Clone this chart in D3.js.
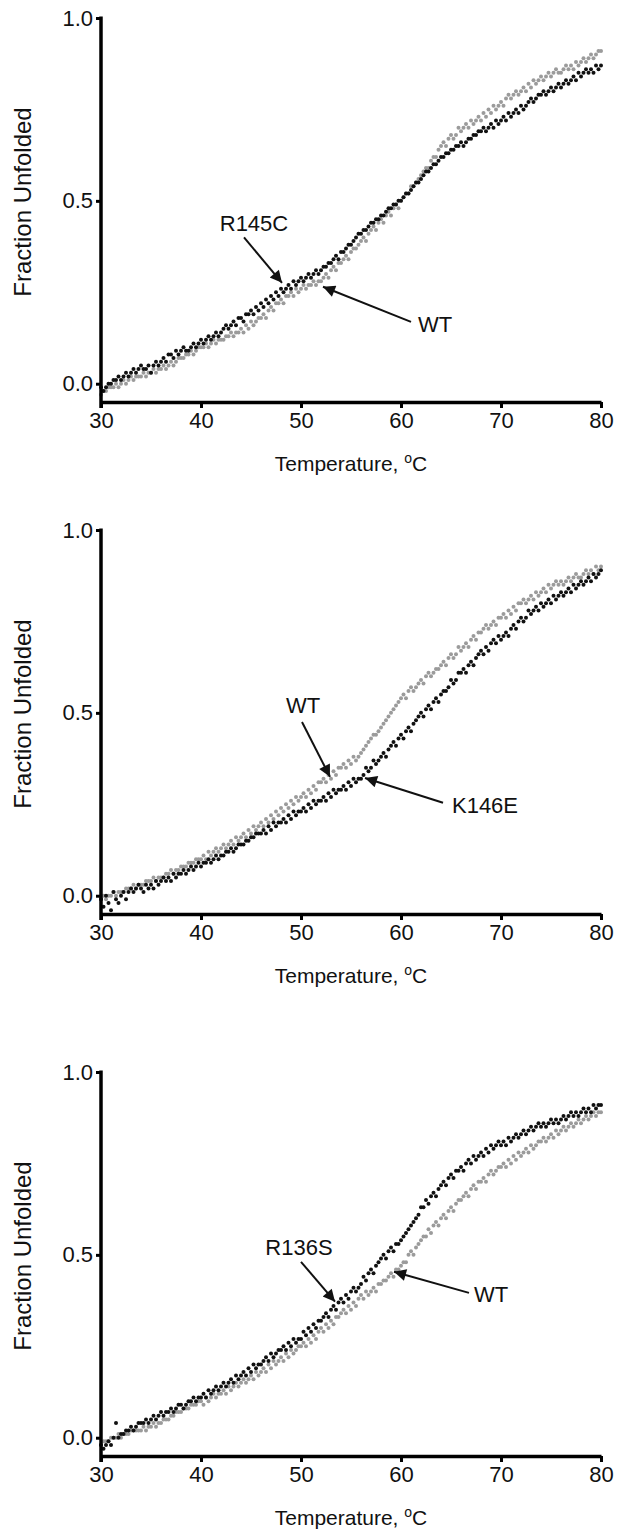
<!DOCTYPE html>
<html>
<head>
<meta charset="utf-8">
<title>Fraction unfolded vs temperature</title>
<script src="https://d3js.org/d3.v7.min.js"></script>
<style>
  body { margin: 0; background: #fff; }
  text { font-family: "Liberation Sans", Arial, Helvetica, sans-serif; fill: #111; }
</style>
</head>
<body>
<div id="chart"></div>
<script>

// temperatures (oC) of the readings, same for every curve
const temps = [
  30,30.25,30.5,30.75,31,31.25,31.5,31.75,
  32,32.25,32.5,32.75,33,33.25,33.5,33.75,
  34,34.25,34.5,34.75,35,35.25,35.5,35.75,
  36,36.25,36.5,36.75,37,37.25,37.5,37.75,
  38,38.25,38.5,38.75,39,39.25,39.5,39.75,
  40,40.25,40.5,40.75,41,41.25,41.5,41.75,
  42,42.25,42.5,42.75,43,43.25,43.5,43.75,
  44,44.25,44.5,44.75,45,45.25,45.5,45.75,
  46,46.25,46.5,46.75,47,47.25,47.5,47.75,
  48,48.25,48.5,48.75,49,49.25,49.5,49.75,
  50,50.25,50.5,50.75,51,51.25,51.5,51.75,
  52,52.25,52.5,52.75,53,53.25,53.5,53.75,
  54,54.25,54.5,54.75,55,55.25,55.5,55.75,
  56,56.25,56.5,56.75,57,57.25,57.5,57.75,
  58,58.25,58.5,58.75,59,59.25,59.5,59.75,
  60,60.25,60.5,60.75,61,61.25,61.5,61.75,
  62,62.25,62.5,62.75,63,63.25,63.5,63.75,
  64,64.25,64.5,64.75,65,65.25,65.5,65.75,
  66,66.25,66.5,66.75,67,67.25,67.5,67.75,
  68,68.25,68.5,68.75,69,69.25,69.5,69.75,
  70,70.25,70.5,70.75,71,71.25,71.5,71.75,
  72,72.25,72.5,72.75,73,73.25,73.5,73.75,
  74,74.25,74.5,74.75,75,75.25,75.5,75.75,
  76,76.25,76.5,76.75,77,77.25,77.5,77.75,
  78,78.25,78.5,78.75,79,79.25,79.5,79.75,
  80
];

// panel 1
const wtA = [
  -0.03,-0.02,-0.02,-0.01,-0.01,-0.01,0.00,-0.01,
  0.00,0.01,0.00,0.01,0.02,0.01,0.02,0.02,
  0.02,0.03,0.02,0.03,0.03,0.04,0.03,0.04,
  0.04,0.05,0.04,0.05,0.06,0.05,0.06,0.07,
  0.07,0.07,0.08,0.08,0.09,0.08,0.09,0.10,
  0.10,0.10,0.11,0.10,0.11,0.12,0.11,0.12,
  0.12,0.12,0.13,0.13,0.14,0.13,0.14,0.14,
  0.15,0.14,0.16,0.15,0.17,0.16,0.17,0.18,
  0.18,0.19,0.18,0.20,0.21,0.20,0.22,0.22,
  0.23,0.22,0.24,0.24,0.25,0.24,0.26,0.25,
  0.26,0.27,0.26,0.27,0.27,0.28,0.27,0.28,
  0.28,0.29,0.30,0.29,0.31,0.32,0.31,0.33,
  0.33,0.34,0.35,0.34,0.36,0.37,0.37,0.38,
  0.39,0.40,0.39,0.41,0.42,0.43,0.42,0.44,
  0.45,0.44,0.46,0.47,0.46,0.48,0.49,0.48,
  0.50,0.51,0.52,0.52,0.54,0.54,0.55,0.56,
  0.57,0.58,0.59,0.59,0.61,0.62,0.62,0.64,
  0.65,0.66,0.65,0.67,0.68,0.67,0.68,0.70,
  0.69,0.70,0.71,0.70,0.72,0.71,0.72,0.73,
  0.72,0.74,0.73,0.75,0.74,0.76,0.75,0.76,
  0.77,0.76,0.78,0.79,0.78,0.79,0.80,0.79,
  0.80,0.81,0.80,0.82,0.81,0.83,0.82,0.83,
  0.84,0.83,0.84,0.85,0.84,0.85,0.86,0.85,
  0.85,0.86,0.87,0.86,0.87,0.86,0.88,0.87,
  0.88,0.89,0.88,0.89,0.90,0.89,0.90,0.91,
  0.91
];
const r145c = [
  -0.01,-0.02,-0.01,0.00,0.00,0.01,0.01,0.02,
  0.01,0.02,0.03,0.02,0.03,0.04,0.03,0.04,
  0.05,0.04,0.04,0.05,0.03,0.05,0.06,0.05,
  0.06,0.07,0.06,0.08,0.08,0.07,0.09,0.08,
  0.09,0.10,0.09,0.09,0.10,0.11,0.10,0.11,
  0.12,0.11,0.12,0.13,0.12,0.13,0.14,0.13,
  0.14,0.15,0.16,0.15,0.16,0.17,0.16,0.18,
  0.18,0.17,0.19,0.19,0.20,0.19,0.21,0.20,
  0.22,0.21,0.23,0.22,0.24,0.23,0.25,0.24,
  0.26,0.25,0.26,0.27,0.26,0.28,0.27,0.28,
  0.29,0.28,0.29,0.30,0.29,0.30,0.31,0.30,
  0.31,0.32,0.32,0.33,0.33,0.34,0.35,0.34,
  0.36,0.36,0.37,0.38,0.38,0.39,0.40,0.41,
  0.41,0.42,0.42,0.43,0.44,0.44,0.45,0.45,
  0.46,0.46,0.47,0.48,0.48,0.49,0.49,0.50,
  0.50,0.51,0.52,0.52,0.53,0.54,0.55,0.55,
  0.56,0.57,0.58,0.58,0.59,0.60,0.60,0.61,
  0.62,0.62,0.63,0.63,0.64,0.64,0.65,0.65,
  0.66,0.65,0.66,0.67,0.67,0.68,0.68,0.69,
  0.69,0.70,0.69,0.70,0.71,0.70,0.72,0.71,
  0.72,0.73,0.72,0.74,0.73,0.74,0.75,0.74,
  0.76,0.75,0.76,0.77,0.78,0.77,0.78,0.79,
  0.79,0.80,0.79,0.80,0.81,0.80,0.81,0.82,
  0.81,0.82,0.83,0.82,0.83,0.84,0.83,0.85,
  0.84,0.85,0.86,0.85,0.86,0.85,0.87,0.86,
  0.87
];

// panel 2
const wtB = [
  -0.01,0.00,-0.01,0.00,0.00,0.01,0.00,0.01,
  0.01,0.01,0.02,0.02,0.02,0.03,0.02,0.03,
  0.03,0.03,0.04,0.04,0.04,0.05,0.04,0.05,
  0.05,0.05,0.06,0.06,0.07,0.06,0.07,0.07,
  0.08,0.08,0.08,0.09,0.09,0.09,0.10,0.10,
  0.10,0.11,0.10,0.12,0.11,0.12,0.13,0.12,
  0.13,0.14,0.13,0.14,0.15,0.14,0.16,0.15,
  0.16,0.17,0.16,0.18,0.17,0.19,0.18,0.19,
  0.20,0.19,0.21,0.20,0.22,0.21,0.23,0.22,
  0.24,0.23,0.25,0.24,0.26,0.25,0.27,0.26,
  0.27,0.28,0.27,0.29,0.28,0.30,0.29,0.31,
  0.31,0.32,0.31,0.33,0.32,0.34,0.33,0.35,
  0.35,0.36,0.35,0.37,0.36,0.38,0.37,0.38,
  0.39,0.40,0.41,0.42,0.43,0.44,0.44,0.45,
  0.46,0.47,0.48,0.49,0.50,0.51,0.52,0.53,
  0.54,0.55,0.54,0.56,0.57,0.56,0.57,0.58,
  0.59,0.58,0.60,0.61,0.60,0.61,0.62,0.62,
  0.63,0.64,0.63,0.65,0.66,0.65,0.66,0.68,
  0.67,0.68,0.69,0.68,0.70,0.71,0.70,0.72,
  0.72,0.73,0.74,0.73,0.74,0.75,0.74,0.76,
  0.76,0.77,0.76,0.78,0.77,0.79,0.78,0.80,
  0.80,0.81,0.80,0.81,0.82,0.81,0.83,0.82,
  0.83,0.84,0.83,0.85,0.84,0.85,0.86,0.85,
  0.86,0.85,0.86,0.87,0.86,0.87,0.88,0.87,
  0.87,0.88,0.89,0.88,0.89,0.88,0.90,0.89,
  0.90
];
const k146e = [
  -0.01,-0.03,0.00,-0.02,-0.04,0.01,-0.01,-0.02,
  0.00,0.01,-0.01,0.01,0.02,0.01,0.02,0.03,
  0.02,0.01,0.03,0.02,0.03,0.02,0.04,0.03,
  0.04,0.05,0.04,0.05,0.04,0.06,0.05,0.06,
  0.06,0.07,0.06,0.07,0.08,0.07,0.08,0.09,
  0.08,0.09,0.09,0.10,0.09,0.10,0.11,0.10,
  0.11,0.11,0.12,0.12,0.13,0.12,0.13,0.14,
  0.14,0.14,0.15,0.15,0.16,0.16,0.17,0.17,
  0.17,0.18,0.17,0.19,0.18,0.20,0.19,0.20,
  0.20,0.21,0.20,0.22,0.21,0.23,0.22,0.23,
  0.23,0.24,0.23,0.25,0.24,0.26,0.25,0.26,
  0.26,0.27,0.26,0.28,0.27,0.29,0.28,0.29,
  0.29,0.30,0.29,0.31,0.30,0.32,0.31,0.32,
  0.32,0.33,0.35,0.34,0.35,0.37,0.36,0.37,
  0.38,0.39,0.38,0.40,0.41,0.42,0.41,0.43,
  0.44,0.43,0.45,0.46,0.45,0.47,0.48,0.49,
  0.50,0.49,0.51,0.52,0.51,0.53,0.54,0.53,
  0.55,0.56,0.56,0.57,0.59,0.58,0.59,0.61,
  0.61,0.62,0.61,0.63,0.64,0.63,0.65,0.66,
  0.67,0.66,0.68,0.67,0.69,0.70,0.69,0.71,
  0.70,0.71,0.72,0.71,0.73,0.74,0.73,0.75,
  0.76,0.75,0.76,0.78,0.77,0.78,0.79,0.78,
  0.80,0.79,0.80,0.81,0.80,0.82,0.81,0.82,
  0.83,0.82,0.83,0.84,0.83,0.85,0.84,0.85,
  0.86,0.85,0.86,0.87,0.86,0.88,0.87,0.88,
  0.89
];

// panel 3
const wtC = [
  -0.02,-0.01,-0.01,-0.01,0.00,0.00,0.00,0.01,
  0.00,0.01,0.01,0.01,0.02,0.02,0.02,0.02,
  0.02,0.03,0.02,0.03,0.03,0.04,0.03,0.04,
  0.04,0.05,0.05,0.05,0.06,0.06,0.07,0.07,
  0.07,0.08,0.08,0.08,0.09,0.09,0.09,0.10,
  0.10,0.09,0.11,0.10,0.11,0.12,0.11,0.12,
  0.12,0.13,0.12,0.14,0.13,0.14,0.15,0.14,
  0.15,0.16,0.15,0.16,0.17,0.16,0.18,0.17,
  0.18,0.19,0.18,0.20,0.19,0.21,0.20,0.21,
  0.22,0.21,0.23,0.22,0.24,0.23,0.24,0.25,
  0.25,0.26,0.25,0.27,0.26,0.28,0.27,0.29,
  0.30,0.29,0.31,0.30,0.32,0.31,0.33,0.33,
  0.34,0.35,0.34,0.36,0.35,0.37,0.36,0.38,
  0.39,0.38,0.40,0.39,0.40,0.41,0.40,0.42,
  0.42,0.43,0.43,0.44,0.45,0.44,0.46,0.46,
  0.47,0.48,0.48,0.50,0.51,0.50,0.52,0.53,
  0.54,0.55,0.55,0.57,0.56,0.58,0.59,0.58,
  0.60,0.61,0.60,0.62,0.63,0.62,0.64,0.65,
  0.65,0.66,0.67,0.66,0.68,0.69,0.68,0.70,
  0.70,0.71,0.70,0.72,0.73,0.72,0.73,0.74,
  0.74,0.75,0.74,0.76,0.75,0.77,0.76,0.78,
  0.77,0.78,0.79,0.78,0.80,0.79,0.80,0.81,
  0.81,0.82,0.81,0.82,0.83,0.82,0.84,0.83,
  0.84,0.85,0.84,0.85,0.86,0.85,0.86,0.87,
  0.86,0.87,0.88,0.87,0.88,0.89,0.88,0.89,
  0.89
];
const r136s = [
  -0.02,-0.03,-0.02,-0.01,-0.02,0.00,0.04,0.00,
  0.01,0.01,0.02,0.02,0.03,0.02,0.03,0.04,
  0.04,0.04,0.05,0.04,0.05,0.06,0.05,0.06,
  0.07,0.06,0.07,0.07,0.08,0.07,0.08,0.09,
  0.09,0.08,0.09,0.10,0.10,0.11,0.10,0.11,
  0.11,0.12,0.11,0.13,0.12,0.13,0.14,0.13,
  0.14,0.15,0.14,0.15,0.16,0.15,0.17,0.16,
  0.17,0.18,0.17,0.19,0.18,0.20,0.19,0.20,
  0.20,0.21,0.22,0.21,0.23,0.22,0.23,0.24,
  0.24,0.25,0.24,0.26,0.25,0.27,0.26,0.27,
  0.27,0.29,0.28,0.30,0.29,0.31,0.30,0.32,
  0.32,0.33,0.34,0.33,0.35,0.36,0.35,0.37,
  0.38,0.37,0.39,0.38,0.40,0.41,0.40,0.41,
  0.42,0.44,0.43,0.45,0.46,0.45,0.47,0.48,
  0.49,0.50,0.49,0.51,0.52,0.51,0.53,0.53,
  0.54,0.55,0.56,0.57,0.58,0.59,0.60,0.61,
  0.63,0.63,0.65,0.64,0.66,0.67,0.66,0.68,
  0.69,0.70,0.69,0.71,0.72,0.71,0.73,0.73,
  0.74,0.73,0.75,0.76,0.75,0.77,0.76,0.77,
  0.78,0.77,0.79,0.78,0.80,0.79,0.80,0.81,
  0.80,0.81,0.80,0.82,0.81,0.82,0.83,0.82,
  0.83,0.84,0.83,0.84,0.85,0.84,0.85,0.86,
  0.85,0.86,0.85,0.86,0.87,0.86,0.87,0.86,
  0.87,0.88,0.87,0.88,0.89,0.88,0.89,0.88,
  0.89,0.90,0.89,0.90,0.89,0.91,0.90,0.91,
  0.91
];

const xTicks = [30, 40, 50, 60, 70, 80];
const yTicks = [0.0, 0.5, 1.0];

// annotation labels: text position and arrow, in data units (T, fraction)
const notesA = [
  {label: "R145C", tx: 45.3, ty: 0.418, from: [44.3, 0.40], to: [48.1, 0.276]},
  {label: "WT", tx: 63.4, ty: 0.142, from: [61.0, 0.169], to: [52.2, 0.265]}
];
const notesB = [
  {label: "WT", tx: 50.2, ty: 0.50, from: [50.1, 0.475], to: [52.9, 0.325]},
  {label: "K146E", tx: 68.4, ty: 0.225, from: [64.2, 0.254], to: [56.4, 0.322]}
];
const notesC = [
  {label: "R136S", tx: 49.8, ty: 0.50, from: [50.0, 0.481], to: [53.4, 0.372]},
  {label: "WT", tx: 69.0, ty: 0.372, from: [66.8, 0.396], to: [59.3, 0.454]}
];

const panels = [
  {top: 0,    wt: wtA, mut: r145c, notes: notesA},
  {top: 512,  wt: wtB, mut: k146e, notes: notesB},
  {top: 1054, wt: wtC, mut: r136s, notes: notesC}
];

const W = 617, H = 1531;
const left = 101, right = 601;
const plotTop = 18, plotBottom = 402;

const svg = d3.select("#chart")
  .append("svg")
    .attr("width", W)
    .attr("height", H);

svg.append("defs").append("marker")
    .attr("id", "head")
    .attr("viewBox", "0 0 10 10")
    .attr("refX", 10)
    .attr("refY", 5)
    .attr("markerUnits", "userSpaceOnUse")
    .attr("markerWidth", 16)
    .attr("markerHeight", 12)
    .attr("orient", "auto")
  .append("path")
    .attr("d", "M0,0L10,5L0,10z")
    .attr("fill", "#111");

const xScale = d3.scaleLinear()
    .domain([30, 80])
    .range([left, right]);

panels.forEach(function(p) {
  const g = svg.append("g")
      .attr("transform", "translate(0," + p.top + ")");

  const yScale = d3.scaleLinear()
      .domain([-0.05, 1.0])
      .range([plotBottom, plotTop]);

  // dots: WT in grey, mutant in black
  [[p.wt, "#9b9b9b"], [p.mut, "#111"]].forEach(function(s) {
    g.append("g").selectAll("circle")
      .data(s[0])
      .enter()
      .append("circle")
        .attr("cx", function(d, i) { return xScale(temps[i]); })
        .attr("cy", function(d) { return yScale(d); })
        .attr("r", 2)
        .attr("fill", s[1]);
  });

  const xAxis = d3.axisBottom(xScale)
      .tickValues(xTicks)
      .tickSize(6)
      .tickSizeOuter(0)
      .tickPadding(4)
      .tickFormat(d3.format("d"));

  const yAxis = d3.axisLeft(yScale)
      .tickValues(yTicks)
      .tickSize(5)
      .tickSizeOuter(0)
      .tickPadding(3)
      .tickFormat(d3.format(".1f"));

  const gx = g.append("g")
      .attr("transform", "translate(0," + plotBottom + ")")
      .call(xAxis);
  const gy = g.append("g")
      .attr("transform", "translate(" + left + ",0)")
      .call(yAxis);

  [gx, gy].forEach(function(a) {
    a.select(".domain").attr("stroke", "#000").attr("stroke-width", 3.5);
    a.selectAll(".tick line").attr("stroke", "#000").attr("stroke-width", 3);
    a.selectAll(".tick text")
      .attr("font-family", "'Liberation Sans', Arial, sans-serif")
      .attr("font-size", 22)
      .attr("fill", "#111");
  });
  // y axis line runs down past the x axis, like the 30 tick
  gy.select(".domain").attr("d", "M0," + (plotBottom + 6) + "V" + (plotTop - 1.5));

  // axis titles
  g.append("text")
      .attr("transform", "translate(31," + 202 + ") rotate(-90)")
      .attr("text-anchor", "middle")
      .attr("font-size", 24)
      .text("Fraction Unfolded");

  const xt = g.append("text")
      .attr("x", (left + right) / 2)
      .attr("y", 471)
      .attr("text-anchor", "middle")
      .attr("font-size", 21);
  xt.append("tspan").text("Temperature, ");
  xt.append("tspan").attr("font-size", 14).attr("dy", -8).text("o");
  xt.append("tspan").attr("dy", 8).text("C");

  // labels with arrows
  p.notes.forEach(function(n) {
    g.append("line")
        .attr("x1", xScale(n.from[0]))
        .attr("y1", yScale(n.from[1]))
        .attr("x2", xScale(n.to[0]))
        .attr("y2", yScale(n.to[1]))
        .attr("stroke", "#111")
        .attr("stroke-width", 2)
        .attr("marker-end", "url(#head)");
    g.append("text")
        .attr("x", xScale(n.tx))
        .attr("y", yScale(n.ty))
        .attr("text-anchor", "middle")
        .attr("font-size", 22)
        .text(n.label);
  });
});

</script>
</body>
</html>
